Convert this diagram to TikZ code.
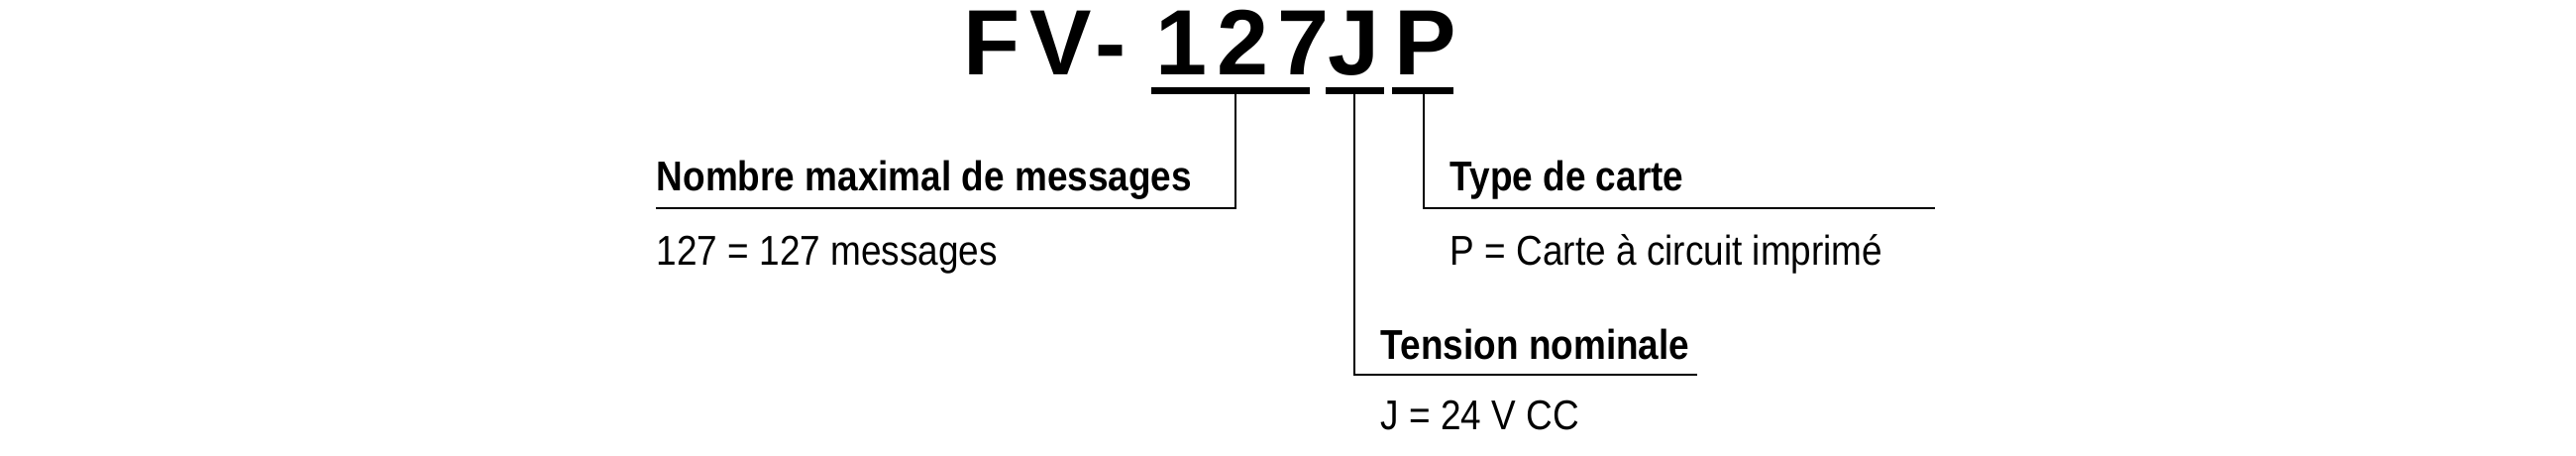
\documentclass[tikz,border=0pt]{standalone}
\usepackage{fontspec}
\setmainfont[FakeStretch=0.88]{Liberation Sans}
\newfontfamily\titlefont[LetterSpace=10]{Liberation Sans}
\usetikzlibrary{positioning}
\tikzset{x=0.25pt, y=-0.25pt,
    code/.style={inner sep=0pt, anchor=base west, font=\titlefont\fontsize{23.4}{26}\selectfont\bfseries},
    head/.style={inner sep=0pt, anchor=base west, font=\fontsize{10.5}{12}\selectfont\bfseries},
    desc/.style={inner sep=0pt, anchor=base west, font=\fontsize{10.5}{12}\selectfont},
    bar/.style={line width=1.75pt},
    leader/.style={line width=0.5pt}}
\begin{document}
\begin{tikzpicture}
    \useasboundingbox (0,0) rectangle (2600,460);
    % model code
    \node[code] (fv) at (972,75) {FV-};
    \node[code] (n127) at (1166,75) {127};
    \node[code] (nJ) at (1340,75) {J};
    \node[code] (nP) at (1407,75) {P};
    \draw[bar] (1162,91) coordinate (b1l) -- (1322,91) coordinate (b1r);
    \draw[bar] (1338,91) coordinate (b2l) -- (1397,91) coordinate (b2r);
    \draw[bar] (1405,91) coordinate (b3l) -- (1467,91) coordinate (b3r);
    % labels
    \node[head] (max) at (662,192) {Nombre maximal de messages};
    \node[desc] (maxv) at (662,267) {127 = 127 messages};
    \node[head] (type) at (1463,192) {Type de carte};
    \node[desc] (typev) at (1463,267) {P = Carte à circuit imprimé};
    \node[head] (volt) at (1393,362) {Tension nominale};
    \node[desc] (voltv) at (1393,433) {J = 24 V CC};
    % leaders
    \coordinate (e1) at (662,210);
    \coordinate (e2) at (1953,210);
    \coordinate (e3) at (1713,378);
    \draw[leader] (1247,91) -- (1247,210) -- (e1);
    \draw[leader] (1437,91) -- (1437,210) -- (e2);
    \draw[leader] (1367,91) -- (1367,378) -- (e3);
\end{tikzpicture}
\end{document}
